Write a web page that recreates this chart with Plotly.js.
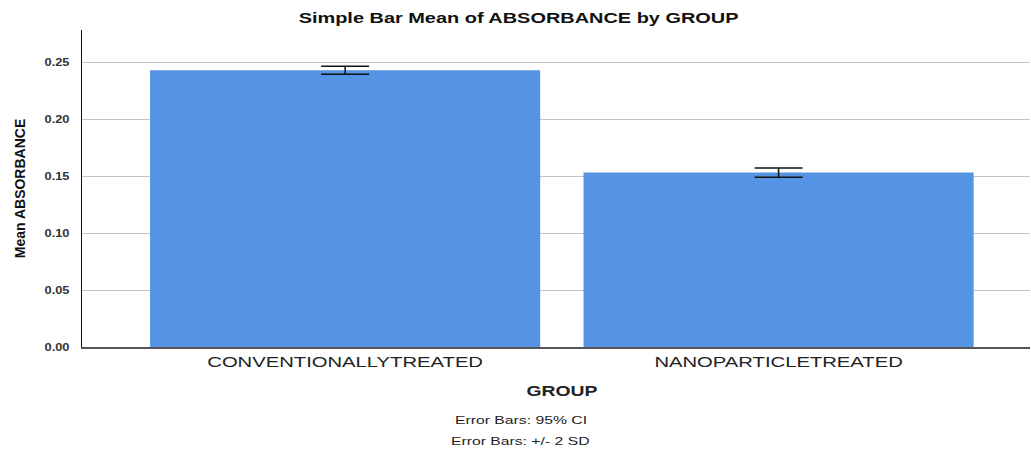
<!DOCTYPE html>
<html><head><meta charset="utf-8">
<script src="https://cdn.plot.ly/plotly-3.0.1.min.js"></script>
<style>body{margin:0;background:#fff}#chart{width:1031px;height:449px}</style>
</head><body><div id="chart"></div>
<script>
const categories = ["CONVENTIONALLYTREATED", "NANOPARTICLETREATED"];
const meanAbsorbance = [0.2435, 0.1535];
const ciHalfWidth = [0.0035, 0.0040];
const yTicks = [0, 0.05, 0.10, 0.15, 0.20, 0.25];
const yTickLabels = ["0.00", "0.05", "0.10", "0.15", "0.20", "0.25"];
const footnotes = ["Error Bars: 95% CI", "Error Bars: +/- 2 SD"];

const FONT = "Liberation Sans, Arial, sans-serif";

const trace = {
  type: "bar",
  x: categories,
  y: meanAbsorbance,
  width: 0.9,
  marker: {color: "#5594e4", line: {width: 0}},
  error_y: {type: "data", array: ciHalfWidth, visible: true, color: "#111", thickness: 1.5, width: 24},
  hoverinfo: "skip"
};

const layout = {
  width: 1031, height: 449,
  margin: {l: 82, r: 1, t: 30, b: 102},
  paper_bgcolor: "#fff", plot_bgcolor: "#fff",
  showlegend: false,
  title: {text: "<b>Simple Bar Mean of ABSORBANCE by GROUP</b>", x: 0.503, xanchor: "center", y: 0.96, yanchor: "middle",
          font: {family: FONT, size: 15, color: "#111"}},
  xaxis: {
    type: "category", range: [-0.607, 1.58],
    showline: true, linecolor: "#555", linewidth: 1.5,
    showgrid: false, ticks: "outside", ticklen: 1, tickcolor: "rgba(0,0,0,0)",
    tickfont: {family: FONT, size: 15, color: "#222"},
    title: {text: "<b>GROUP</b>", font: {family: FONT, size: 15, color: "#222"}, standoff: 16},
    fixedrange: true
  },
  yaxis: {
    range: [0, 0.279],
    tickvals: yTicks, ticktext: yTickLabels,
    tickfont: {family: FONT, size: 10, color: "#333", weight: "bold"},
    ticks: "outside", ticklen: 9, tickcolor: "rgba(0,0,0,0)",
    showline: true, linecolor: "#111", linewidth: 1.5,
    showgrid: true, gridcolor: "#c4c4c4", gridwidth: 1,
    zeroline: false,
    title: {text: "<b>Mean ABSORBANCE</b>", font: {family: FONT, size: 14, color: "#111"}, standoff: 21},
    fixedrange: true
  },
  annotations: [
    {text: footnotes[0], xref: "paper", yref: "paper", x: 0.463, y: -0.230, xanchor: "center", yanchor: "middle", showarrow: false,
     font: {family: FONT, size: 10.5, color: "#222"}},
    {text: footnotes[1], xref: "paper", yref: "paper", x: 0.463, y: -0.2965, xanchor: "center", yanchor: "middle", showarrow: false,
     font: {family: FONT, size: 10.5, color: "#222"}}
  ]
};

function stretch(root, sel, s, dx) {
  root.querySelectorAll(sel).forEach(t => {
    const x = parseFloat(t.getAttribute("x") || 0), y = parseFloat(t.getAttribute("y") || 0);
    const tr = t.getAttribute("transform") || "";
    t.setAttribute("transform", tr + " translate(" + (x + (dx || 0)) + "," + y + ") scale(" + s + ",1) translate(" + (-x) + "," + (-y) + ")");
  });
}

Plotly.newPlot("chart", [trace], layout, {displayModeBar: false, staticPlot: true}).then(gd => {
  stretch(gd, "text.gtitle", 1.33);
  stretch(gd, "g.xtick > text", 1.35);
  stretch(gd, "g.ytick > text", 1.28);
  stretch(gd, "text.xtitle", 1.29, 6);
  stretch(gd, "text.annotation-text", 1.5);
});
</script></body></html>
